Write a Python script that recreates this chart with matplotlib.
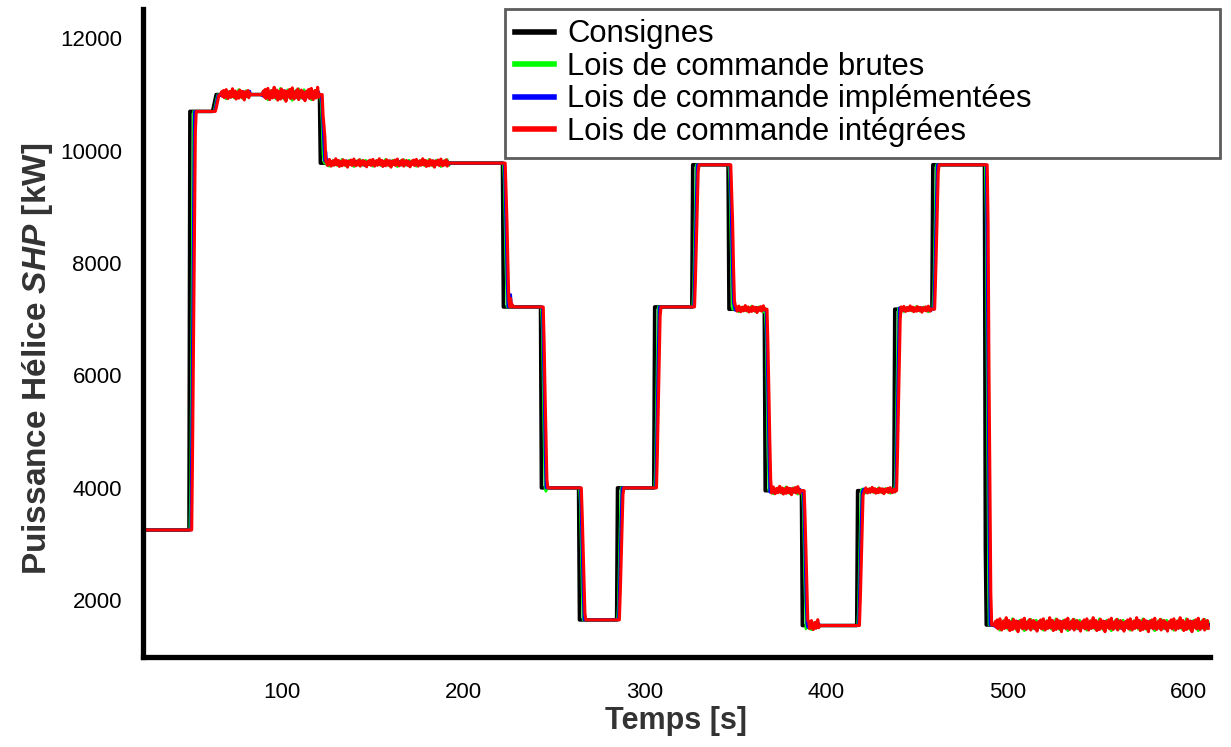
import numpy as np
import matplotlib.pyplot as plt

plt.rcParams['font.family'] = ['Liberation Sans', 'DejaVu Sans']
plt.rcParams['mathtext.fontset'] = 'custom'
plt.rcParams['mathtext.it'] = 'Liberation Sans:italic:bold'
plt.rcParams['mathtext.rm'] = 'Liberation Sans:bold'

# Consigne de puissance : instants de changement [s] et paliers [kW]
t_debut, t_fin = 23.0, 611.0
instants = [48.5, 61.5, 120.5, 221.5, 242.5, 263.5, 284.5, 305.0, 326.0,
            346.0, 366.0, 386.5, 417.0, 437.5, 458.5, 487.5]
paliers = [3250, 10700, 11000, 9780, 7220, 4000, 1650, 4000, 7220, 9750,
           7180, 3950, 1550, 3950, 7180, 9750, 1560]
montee_cons = [0.3, 2.0, 0.3, 0.3, 0.3, 0.3, 0.3, 0.3, 0.3, 0.3, 0.3, 0.3,
               0.3, 0.3, 0.3, 0.6]

# retard / temps de montée des trois lois de commande [s]
retards = {'brutes': 0.8, 'impl': 1.1, 'integ': 1.6}
montees = {'brutes': 1.6, 'impl': 1.8, 'integ': 2.0}

# fenêtres bruitées (début, fin, gain) sur les paliers
fenetres = [(66, 82, 0.8), (89, 120, 1.0), (123, 192, 0.6), (349, 366, 0.5),
            (368, 386, 0.6), (389, 396, 0.8), (419, 438, 0.45), (440, 458, 0.45),
            (493, 611, 1.0)]
bruit = [0, 60, -40, 90, -70, 20, 110, -30, -90, 40, 70, -60, 10, 130, -50,
         -20, 80, -100, 30, 50, -80, 100, -10, -60, 70, 0, -120, 60, 20, -40,
         90, -70, 40, 120, -30, -80, 10, 60, -50, 100, -90, 30, 0, 80, -60,
         50, -20, -110]

# dépassements après certaines transitions : (instant, écart [kW])
pics_integ = [(122.5, -130), (123.5, 60), (124.5, -60), (224.0, 90),
              (226.0, 150), (227.0, 40), (245.0, -80), (348.5, 150),
              (350.0, 80), (489.5, 600), (491.0, 150)]
pics_impl = [(124.0, 230), (226.0, 220), (244.5, 60), (349.0, 120)]
pics_brutes = [(122.5, -150), (245.5, -60), (265.5, -60), (389.0, -80)]

t = np.arange(t_debut, t_fin + 0.25, 0.5)


def profil(retard, montee):
    tt, pp = [t_debut], [paliers[0]]
    for ts, m, p_av, p_ap in zip(instants, montee_cons, paliers[:-1], paliers[1:]):
        d = max(m, montee)
        tt += [ts + retard, ts + retard + d]
        pp += [p_av, p_ap]
    tt.append(t_fin)
    pp.append(paliers[-1])
    return np.interp(t, tt, pp)


def bruite(p, decalage, gain_global, pics):
    p = p.copy()
    for (a, b, g) in fenetres:
        idx = np.where((t >= a) & (t <= b))[0]
        vals = np.resize(np.roll(bruit, decalage), len(idx))
        p[idx] += g * gain_global * vals
    for (ti, dp) in pics:
        i = np.argmin(np.abs(t - ti))
        p[i] += dp
    return p


consigne = profil(0.0, 0.0)
brutes = bruite(profil(retards['brutes'], montees['brutes']), 7, 0.85, pics_brutes)
impl = bruite(profil(retards['impl'], montees['impl']), 19, 0.6, pics_impl)
integ = bruite(profil(retards['integ'], montees['integ']), 0, 1.0, pics_integ)

fig = plt.figure(figsize=(12.31, 7.47), dpi=100)
ax = fig.add_axes([0.116, 0.1205, 0.867, 0.868])

ax.plot(t, consigne, color='black', lw=2.6, label='Consignes')
ax.plot(t, brutes, color='#00ff00', lw=2.0, label='Lois de commande brutes')
ax.plot(t, impl, color='#0000ff', lw=2.0, label='Lois de commande implémentées')
ax.plot(t, integ, color='#ff0000', lw=2.2, label='Lois de commande intégrées')

ax.set_xlim(t_debut, 612)
ax.set_ylim(990, 12530)
ax.set_xticks([100, 200, 300, 400, 500, 600])
ax.set_yticks([2000, 4000, 6000, 8000, 10000, 12000])
ax.tick_params(length=0, labelsize=16, pad=18)
ax.tick_params(axis='y', pad=15)

for s in ['top', 'right']:
    ax.spines[s].set_visible(False)
for s in ['left', 'bottom']:
    ax.spines[s].set_linewidth(3.8)

ax.set_xlabel('Temps [s]', fontsize=22, fontweight='bold', color='#333333')
ax.set_ylabel('Puissance Hélice $\\mathit{SHP}$ [kW]', fontsize=24,
              fontweight='bold', color='#333333')
ax.xaxis.set_label_coords(0.5, -0.076)
ax.yaxis.set_label_coords(-0.082, 0.46)

leg = ax.legend(loc='upper left', bbox_to_anchor=(0.339, 0.0, 0.67, 1.0),
                mode='expand', fontsize=22.3, frameon=True, fancybox=False,
                borderaxespad=0, handlelength=1.25, handletextpad=0.42,
                labelspacing=0.08, borderpad=0.35)
leg.get_frame().set_edgecolor('#333333')
leg.get_frame().set_linewidth(2.0)
for line in leg.get_lines():
    line.set_linewidth(4.0)

fig.savefig('out.png', dpi=100)
